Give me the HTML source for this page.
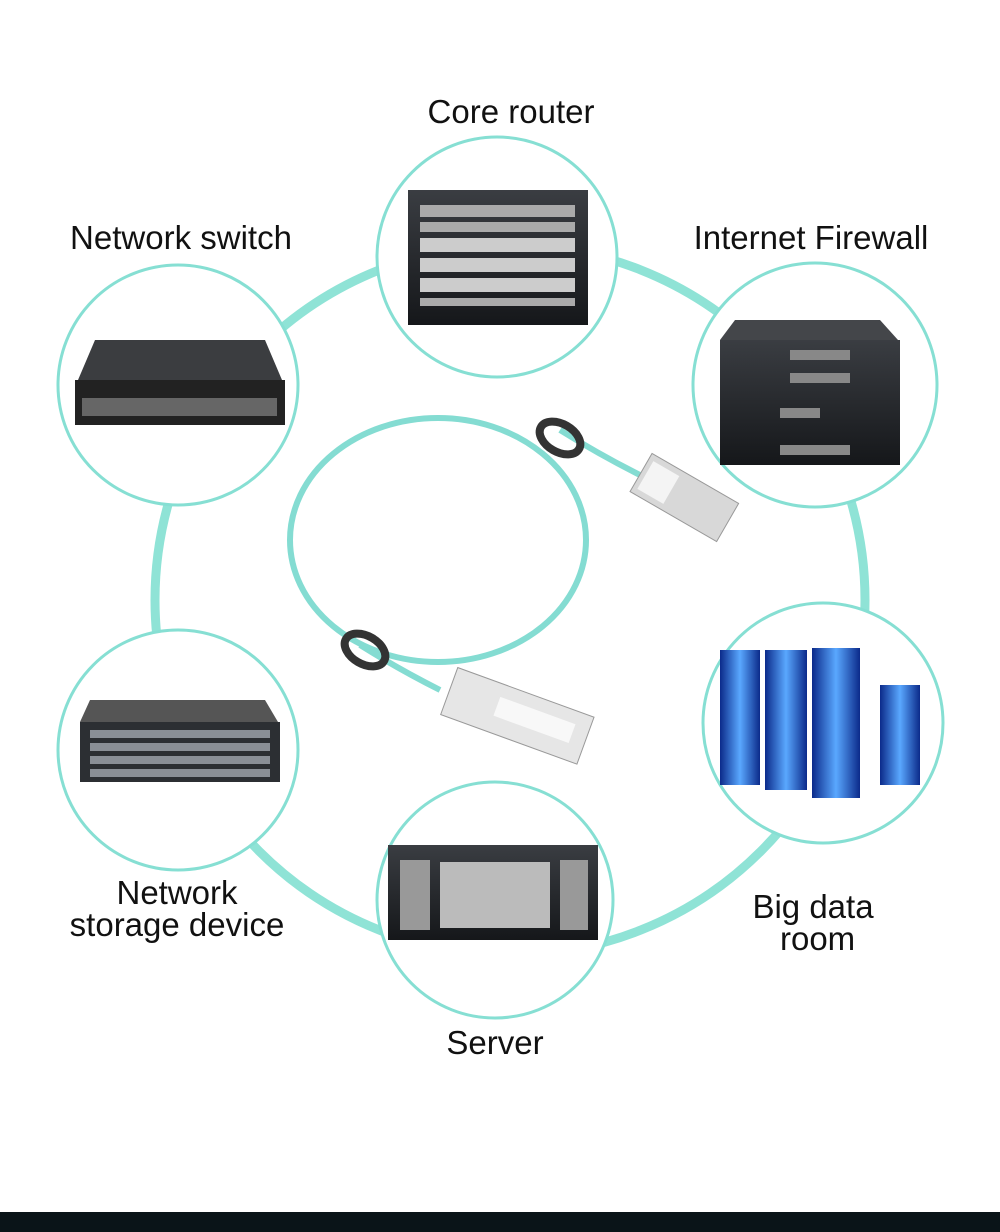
<!DOCTYPE html>
<html><head><meta charset="utf-8"><style>
body{margin:0;background:#fff;}
.l{position:absolute;font-family:"Liberation Sans",sans-serif;font-size:33px;color:#111;text-align:center;line-height:32px;white-space:nowrap}
</style></head><body>
<div style="position:relative;width:1000px;height:1232px;overflow:hidden">
<svg width="1000" height="1232" style="position:absolute;left:0;top:0">
<defs>
<linearGradient id="dk" x1="0" y1="0" x2="0" y2="1"><stop offset="0" stop-color="#3a3d42"/><stop offset="1" stop-color="#15171a"/></linearGradient>
<linearGradient id="bl" x1="0" y1="0" x2="1" y2="0"><stop offset="0" stop-color="#0b2a8a"/><stop offset=".5" stop-color="#5aa8ff"/><stop offset="1" stop-color="#0b2a8a"/></linearGradient>
</defs>
<circle cx="510" cy="600" r="355" fill="none" stroke="#8fe3d6" stroke-width="9"/>
<g fill="#fff" stroke="#86dfd3" stroke-width="3">
<circle cx="497" cy="257" r="120"/>
<circle cx="178" cy="385" r="120"/>
<circle cx="815" cy="385" r="122"/>
<circle cx="178" cy="750" r="120"/>
<circle cx="823" cy="723" r="120"/>
<circle cx="495" cy="900" r="118"/>
</g>
<rect x="408" y="190" width="180" height="135" fill="url(#dk)"/>
<g fill="#aaa"><rect x="420" y="205" width="155" height="12"/><rect x="420" y="222" width="155" height="10"/><rect x="420" y="238" width="155" height="14" fill="#ccc"/><rect x="420" y="258" width="155" height="14" fill="#ccc"/><rect x="420" y="278" width="155" height="14" fill="#ccc"/><rect x="420" y="298" width="155" height="8"/></g>
<polygon points="95,340 265,340 282,380 78,380" fill="#3b3d40"/>
<rect x="75" y="380" width="210" height="45" fill="#222"/>
<rect x="82" y="398" width="195" height="18" fill="#666"/>
<polygon points="735,320 880,320 898,340 720,340" fill="#44464a"/>
<rect x="720" y="340" width="180" height="125" fill="url(#dk)"/>
<g fill="#888"><rect x="790" y="350" width="60" height="10"/><rect x="790" y="373" width="60" height="10"/><rect x="780" y="408" width="40" height="10"/><rect x="780" y="445" width="70" height="10"/></g>
<polygon points="90,700 265,700 278,722 80,722" fill="#555"/>
<rect x="80" y="722" width="200" height="60" fill="#2c2f33"/>
<g fill="#8a8f96"><rect x="90" y="730" width="180" height="8"/><rect x="90" y="743" width="180" height="8"/><rect x="90" y="756" width="180" height="8"/><rect x="90" y="769" width="180" height="8"/></g>
<g fill="url(#bl)"><rect x="720" y="650" width="40" height="135"/><rect x="765" y="650" width="42" height="140"/><rect x="812" y="648" width="48" height="150"/><rect x="880" y="685" width="40" height="100"/></g>
<rect x="388" y="845" width="210" height="95" fill="url(#dk)"/>
<g fill="#999"><rect x="400" y="860" width="30" height="70"/><rect x="440" y="862" width="110" height="66" fill="#bbb"/><rect x="560" y="860" width="28" height="70"/></g>
<ellipse cx="438" cy="540" rx="148" ry="122" fill="none" stroke="#84dcd2" stroke-width="6"/>
<path d="M 560 430 Q 600 455 640 475" stroke="#84dcd2" stroke-width="6" fill="none"/>
<path d="M 360 645 Q 400 670 440 690" stroke="#84dcd2" stroke-width="6" fill="none"/>
<g transform="translate(680,495) rotate(30)"><rect x="-45" y="-22" width="100" height="44" fill="#d8d8d8" stroke="#999"/><rect x="-40" y="-16" width="30" height="32" fill="#f4f4f4"/></g>
<ellipse cx="560" cy="438" rx="22" ry="14" fill="none" stroke="#333" stroke-width="8" transform="rotate(30 560 438)"/>
<g transform="translate(515,715) rotate(20)"><rect x="-70" y="-25" width="145" height="50" fill="#e6e6e6" stroke="#999"/><rect x="-20" y="-12" width="80" height="20" fill="#f8f8f8"/></g>
<ellipse cx="365" cy="650" rx="22" ry="14" fill="none" stroke="#333" stroke-width="8" transform="rotate(30 365 650)"/>
<rect x="0" y="1212" width="1000" height="20" fill="#0a1418"/>
</svg>
<div class="l" style="left:411px;top:96px;width:200px">Core router</div>
<div class="l" style="left:50px;top:222px;width:262px">Network switch</div>
<div class="l" style="left:676px;top:222px;width:270px">Internet Firewall</div>
<div class="l" style="left:47px;top:877px;width:260px">Network<br>storage device</div>
<div class="l" style="left:713px;top:891px;width:200px">Big data<br>&nbsp;room</div>
<div class="l" style="left:395px;top:1027px;width:200px">Server</div>
</div>
</body></html>
